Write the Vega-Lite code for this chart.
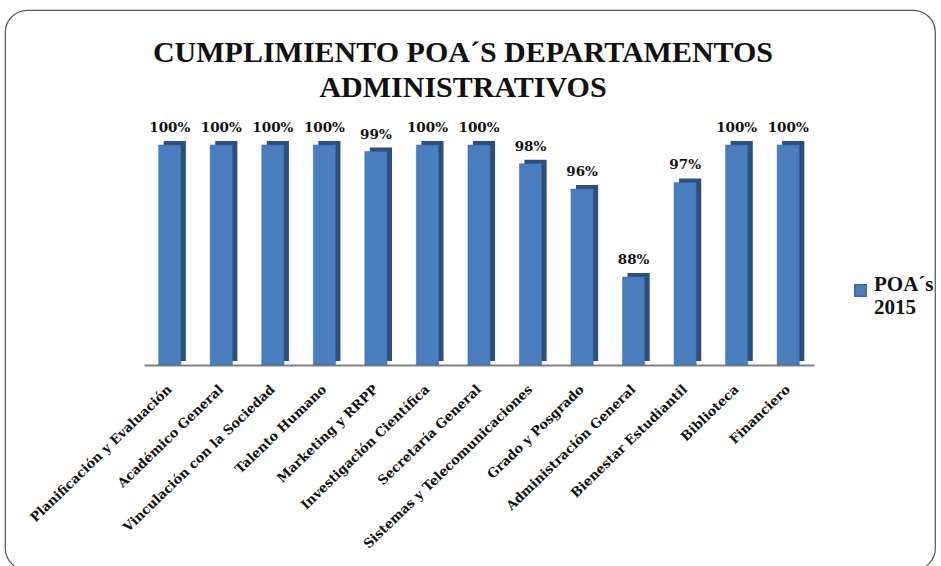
{
  "$schema": "https://vega.github.io/schema/vega-lite/v6.json",
  "autosize": "none",
  "width": 930,
  "height": 560,
  "padding": {"left": 5, "top": 10, "right": 6, "bottom": 0},
  "background": "white",
  "config": {
    "view": {"stroke": "#555555", "strokeWidth": 1.2, "cornerRadius": 22}
  },
  "title": {
    "text": ["CUMPLIMIENTO POA´S DEPARTAMENTOS", "ADMINISTRATIVOS"],
    "font": "Liberation Serif",
    "fontWeight": "bold",
    "fontSize": 30,
    "lineHeight": 35,
    "color": "#111111",
    "anchor": "middle",
    "frame": "group",
    "baseline": "top",
    "offset": -93,
    "dx": -7
  },
  "data": {
    "values": [
      {"dep": "Planificación y Evaluación", "v": 1.0, "serie": "POA´s 2015"},
      {"dep": "Académico General", "v": 1.0, "serie": "POA´s 2015"},
      {"dep": "Vinculación con la Sociedad", "v": 1.0, "serie": "POA´s 2015"},
      {"dep": "Talento Humano", "v": 1.0, "serie": "POA´s 2015"},
      {"dep": "Marketing y RRPP", "v": 0.994, "serie": "POA´s 2015"},
      {"dep": "Investigación Científica", "v": 1.0, "serie": "POA´s 2015"},
      {"dep": "Secretaría General", "v": 1.0, "serie": "POA´s 2015"},
      {"dep": "Sistemas y Telecomunicaciones", "v": 0.983, "serie": "POA´s 2015"},
      {"dep": "Grado y Posgrado", "v": 0.96, "serie": "POA´s 2015"},
      {"dep": "Administración General", "v": 0.88, "serie": "POA´s 2015"},
      {"dep": "Bienestar Estudiantil", "v": 0.966, "serie": "POA´s 2015"},
      {"dep": "Biblioteca", "v": 1.0, "serie": "POA´s 2015"},
      {"dep": "Financiero", "v": 1.0, "serie": "POA´s 2015"}
    ]
  },
  "encoding": {
    "x": {
      "field": "dep",
      "type": "nominal",
      "sort": null,
      "scale": {"range": [139, 809], "paddingInner": 0.57, "paddingOuter": 0.285},
      "axis": {
        "title": null,
        "offset": -205,
        "labelAngle": -44,
        "labelAlign": "right",
        "labelBaseline": "middle",
        "labelPadding": 22,
        "labelDx": -12,
        "labelFont": "DejaVu Serif",
        "labelFontWeight": "bold",
        "labelFontSize": 13,
        "labelColor": "#111111",
        "labelLimit": 400,
        "ticks": false,
        "domainColor": "#808080",
        "domainWidth": 2
      }
    },
    "y": {
      "field": "v",
      "type": "quantitative",
      "scale": {"domain": [0.8, 1.0], "range": [355, 135], "clamp": true, "zero": false, "nice": false},
      "axis": null
    }
  },
  "layer": [
    {
      "mark": {"type": "bar", "color": "#2c4f80", "xOffset": 5, "yOffset": -4, "y2Offset": -4},
      "encoding": {"y2": {"datum": 0.8}}
    },
    {
      "mark": {"type": "bar", "stroke": "#3a679e", "strokeWidth": 0.5},
      "encoding": {
        "y2": {"datum": 0.8},
        "color": {
          "field": "serie",
          "type": "nominal",
          "scale": {"range": ["#4a7ebf"]},
          "legend": {
            "title": null,
            "orient": "none",
            "legendX": 845,
            "legendY": 270,
            "symbolType": "square",
            "symbolSize": 130,
            "labelExpr": "['POA´s', '2015']",
            "labelFont": "Liberation Serif",
            "labelFontWeight": "bold",
            "labelFontSize": 21,
            "labelLineHeight": 26,
            "labelColor": "#111111",
            "labelBaseline": "alphabetic",
            "labelOffset": 3
          }
        }
      }
    },
    {
      "mark": {"type": "text", "dy": -17, "font": "DejaVu Serif", "fontWeight": "bold", "fontSize": 13.5, "color": "#111111"},
      "encoding": {
        "text": {"field": "v", "type": "quantitative", "format": ".0%"}
      }
    }
  ]
}
